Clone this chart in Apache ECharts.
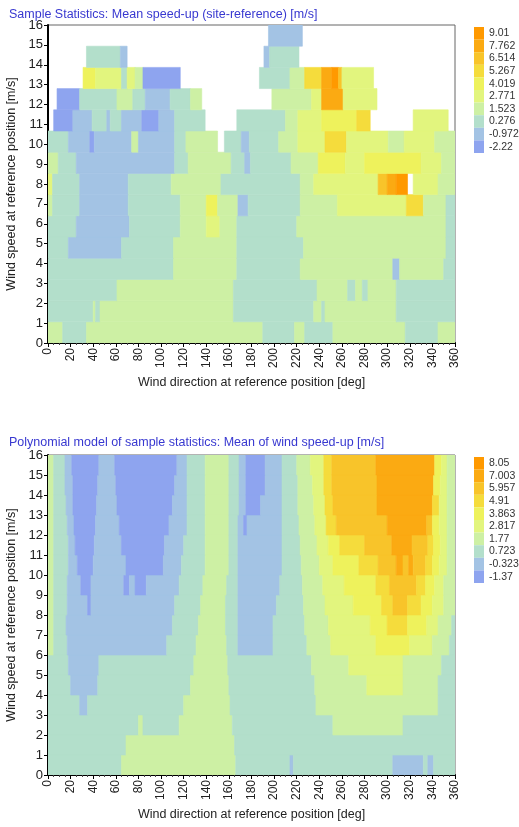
<!DOCTYPE html>
<html>
<head>
<meta charset="utf-8">
<script src="https://cdn.jsdelivr.net/npm/echarts@6/dist/echarts.min.js"></script>
<style>
html, body { margin: 0; padding: 0; background: #fff; }
#main { width: 519px; height: 827px; }
</style>
</head>
<body>
<div id="main"></div>
<script>
// colour classes, low (blue) -> high (orange)
var palette = ['#8ea4ef', '#a3c3e4', '#b3dfcb', '#cdf0a4', '#e2f57e', '#eef25c', '#f5dc3c', '#f8c42a', '#fbaa12', '#ff9900'];

// legend values of the two plots (class 0..9)
var topLabels = ['-2.22', '-0.972', '0.276', '1.523', '2.771', '4.019', '5.267', '6.514', '7.762', '9.01'];
var bottomLabels = ['-1.37', '-0.323', '0.723', '1.77', '2.817', '3.863', '4.91', '5.957', '7.003', '8.05'];

// rows from the bottom up: "startDeg:class ... 360", '-' = no data
var topRowHeight = 16 / 15;
var topRows = [
    "0:3 13:2 34:3 190:2 218:3 227:2 252:3 316:2 345:3 360",
    "0:2 40:3 42:2 46:3 164:2 235:3 242:2 245:3 308:2 360",
    "0:2 61:3 164:2 238:3 265:2 272:3 278:2 283:3 308:2 360",
    "0:2 111:3 167:2 223:3 305:1 311:3 350:2 360",
    "0:2 18:1 65:2 111:3 167:2 226:3 352:2 360",
    "0:2 25:1 72:2 117:3 140:4 152:3 167:2 220:3 352:2 360",
    "0:3 4:2 28:1 71:2 117:3 140:5 150:3 168:1 177:2 223:3 256:4 317:6 332:3 352:2 360",
    "0:4 4:2 28:1 71:2 109:3 153:2 223:3 235:4 292:7 300:8 308:9 318:- 323:4 345:3 360",
    "0:3 9:2 25:1 112:2 124:3 162:2 174:1 179:2 215:3 239:5 263:4 280:5 330:4 348:3 360",
    "0:2 18:1 37:0 41:1 74:3 80:1 112:2 122:3 150:- 156:2 171:1 178:2 204:3 221:4 245:6 264:4 301:3 315:4 342:3 360",
    "0:- 5:0 22:1 39:2 52:1 55:2 65:1 83:0 98:1 112:2 139:- 167:2 210:3 221:4 242:5 273:6 285:- 323:4 354:- 360",
    "0:- 8:0 28:2 61:3 75:2 86:1 108:2 126:3 136:- 198:3 233:4 242:8 261:4 291:- 360",
    "0:- 31:5 42:4 65:2 70:4 77:3 84:0 117:- 187:2 214:3 227:6 242:8 251:9 257:7 260:4 288:- 360",
    "0:- 34:2 64:1 70:- 191:1 196:2 222:- 360",
    "0:- 195:1 225:- 360"
];

var bottomRowHeight = 1;
var bottomRows = [
    "0:2 65:3 166:2 214:1 217:2 305:1 332:2 336:1 341:2 360",
    "0:2 69:3 165:2 360",
    "0:2 80:3 84:2 116:3 163:2 252:3 314:2 360",
    "0:2 28:1 35:2 120:3 161:2 237:3 345:2 360",
    "0:2 20:1 44:2 126:3 160:2 236:3 282:4 314:3 345:2 360",
    "0:2 18:1 45:2 129:3 159:2 233:3 266:4 314:3 348:2 360",
    "0:3 5:2 17:1 105:2 131:3 158:2 168:1 199:2 229:3 250:4 290:5 320:4 340:3 355:2 360",
    "0:3 5:2 16:1 110:2 133:3 157:2 168:1 199:2 227:3 248:4 285:5 300:6 318:5 335:4 345:3 357:2 360",
    "0:3 5:2 17:1 35:0 38:1 112:2 135:3 157:2 168:1 202:2 226:3 245:4 270:5 295:6 305:7 318:6 330:5 340:4 350:3 360",
    "0:3 5:2 17:1 29:0 38:1 67:0 72:1 77:0 87:1 116:2 137:3 158:2 168:1 205:2 225:3 243:4 262:5 290:6 302:7 326:6 334:5 342:4 350:3 360",
    "0:3 5:2 18:1 26:0 40:1 69:0 102:1 118:2 139:3 160:2 168:1 207:2 224:3 240:4 252:5 275:6 292:7 308:8 314:7 319:8 323:7 334:6 340:5 346:4 353:3 360",
    "0:3 5:2 18:1 24:0 41:1 65:0 103:1 120:2 139:3 160:2 168:1 207:2 223:3 238:4 248:5 258:6 280:7 304:8 322:7 336:6 341:5 347:4 353:3 360",
    "0:3 5:2 17:1 23:0 42:1 63:0 107:1 123:2 139:3 160:2 168:1 173:0 176:1 207:2 222:3 236:4 246:6 255:7 300:8 335:7 340:5 346:4 353:3 360",
    "0:3 5:2 16:1 22:0 43:1 61:0 110:1 123:2 139:3 160:2 169:1 175:0 188:1 207:2 221:3 235:4 245:6 252:7 291:8 340:6 346:4 353:3 360",
    "0:3 5:2 15:1 22:0 44:1 60:0 112:1 123:2 139:3 160:2 169:1 175:0 192:1 207:2 221:3 234:4 244:6 251:7 291:8 341:5 347:4 353:3 360",
    "0:3 5:2 15:1 21:0 45:1 59:0 114:1 123:2 139:3 160:2 169:1 175:0 192:1 207:2 220:3 232:4 244:6 251:7 290:8 342:5 348:4 353:3 360"
];

var titles = [
    'Sample Statistics: Mean speed-up (site-reference) [m/s]',
    'Polynomial model of sample statistics: Mean of wind speed-up [m/s]'
];
var xName = 'Wind direction at reference position [deg]';
var yName = 'Wind speed at reference position [m/s]';

// turn row strings into cells [x0, x1, y0, y1, class]
function buildCells(rows, h) {
    var out = [];
    rows.forEach(function (row, r) {
        var tok = row.split(' ');
        for (var i = 0; i < tok.length - 1; i++) {
            var a = tok[i].split(':');
            var next = parseFloat(tok[i + 1].split(':')[0]);
            if (a[1] === '-') continue;
            out.push([parseFloat(a[0]), next, r * h, (r + 1) * h, parseInt(a[1], 10)]);
        }
    });
    return out;
}

function renderCell(params, api) {
    var p0 = api.coord([api.value(0), api.value(3)]);
    var p1 = api.coord([api.value(1), api.value(2)]);
    var c = api.visual('color');
    return {
        type: 'rect',
        shape: { x: p0[0], y: p0[1], width: p1[0] - p0[0], height: p1[1] - p0[1] },
        style: { fill: c, stroke: c, lineWidth: 0.6 }
    };
}

function pieces(labels) {
    return labels.map(function (l, i) {
        return { value: i, label: l, color: palette[i] };
    });
}

var gridTops = [25, 455];
var gridHeights = [318, 320];
var legendTops = [27, 457];
var font = 'Liberation Sans, Arial, sans-serif';

var chart = echarts.init(document.getElementById('main'));

var option = {
    backgroundColor: '#fff',
    animation: false,
    textStyle: { fontFamily: font },
    title: [0, 1].map(function (i) {
        return {
            text: titles[i], left: 4, top: i ? 431 : 3,
            textStyle: { fontSize: 12.5, fontWeight: 'normal', color: '#3838d0', fontFamily: font }
        };
    }),
    grid: [0, 1].map(function (i) {
        return {
            left: 48, top: gridTops[i], width: 407, height: gridHeights[i],
            containLabel: false, outerBoundsMode: 'none',
            show: true, borderColor: '#666', borderWidth: 1, backgroundColor: '#fff'
        };
    }),
    xAxis: [0, 1].map(function (i) {
        return {
            gridIndex: i, type: 'value', min: 0, max: 360, interval: 20,
            name: xName, nameLocation: 'middle', nameGap: 33,
            nameTextStyle: { fontSize: 12.5, color: '#222' },
            axisLine: { show: true, onZero: false, lineStyle: { color: '#000', width: 2 } },
            axisTick: { show: true, length: 4, lineStyle: { color: '#000' } },
            minorTick: { show: true, splitNumber: 4, length: 2, lineStyle: { color: '#444' } },
            axisLabel: { rotate: 90, fontSize: 12, color: '#222', margin: 5 },
            splitLine: { show: false }
        };
    }),
    yAxis: [0, 1].map(function (i) {
        return {
            gridIndex: i, type: 'value', min: 0, max: 16, interval: 1,
            name: yName, nameLocation: 'middle', nameGap: 28,
            nameTextStyle: { fontSize: 12.5, color: '#222' },
            axisLine: { show: true, onZero: false, lineStyle: { color: '#000', width: 2 } },
            axisTick: { show: true, length: 4, lineStyle: { color: '#000' } },
            axisLabel: { fontSize: 13, color: '#222', margin: 5 },
            splitLine: { show: false }
        };
    }),
    visualMap: [0, 1].map(function (i) {
        return {
            type: 'piecewise', seriesIndex: i, dimension: 4, orient: 'vertical',
            left: 474, top: legendTops[i], align: 'left', padding: 0,
            itemWidth: 10, itemHeight: 12.6, itemGap: 0,
            itemSymbol: 'rect', textGap: 5, selectedMode: false, hoverLink: false,
            pieces: pieces(i ? bottomLabels : topLabels),
            textStyle: { fontSize: 10.5, color: '#333' }
        };
    }),
    series: [
        {
            type: 'custom', xAxisIndex: 0, yAxisIndex: 0, renderItem: renderCell,
            encode: { x: [0, 1], y: [2, 3] }, clip: true,
            data: buildCells(topRows, topRowHeight)
        },
        {
            type: 'custom', xAxisIndex: 1, yAxisIndex: 1, renderItem: renderCell,
            encode: { x: [0, 1], y: [2, 3] }, clip: true,
            data: buildCells(bottomRows, bottomRowHeight)
        }
    ]
};

chart.setOption(option);
</script>
</body>
</html>
